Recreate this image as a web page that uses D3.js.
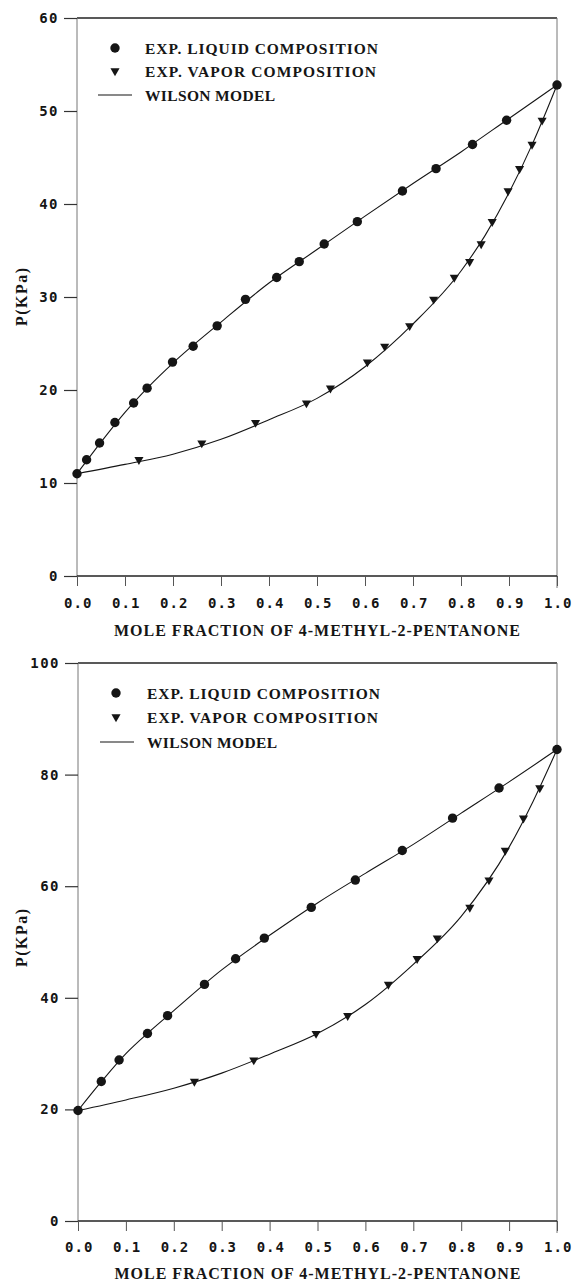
<!DOCTYPE html>
<html><head><meta charset="utf-8">
<script src="https://cdn.jsdelivr.net/npm/d3@7"></script>
<style>body{margin:0;background:#fff}svg{display:block}</style>
</head><body>
<svg id="chart" width="574" height="1284"></svg>
<script>
// ---------- DATA ----------
const xTicks = [0, 0.1, 0.2, 0.3, 0.4, 0.5, 0.6, 0.7, 0.8, 0.9, 1.0];
const topYTicks = [0, 10, 20, 30, 40, 50, 60];
const botYTicks = [0, 20, 40, 60, 80, 100];

const legendLabels = ["EXP. LIQUID COMPOSITION", "EXP. VAPOR COMPOSITION", "WILSON MODEL"];
const xTitle = "MOLE FRACTION OF 4-METHYL-2-PENTANONE";
const yTitle = "P(KPa)";

// Top panel
const topLiquidX = [0, 0.020, 0.047, 0.079, 0.118, 0.146, 0.199, 0.242, 0.292, 0.351, 0.416, 0.463, 0.515, 0.584, 0.678, 0.748, 0.824, 0.895, 1.0];
const topLiquidP = [11.0, 12.5, 14.3, 16.5, 18.6, 20.2, 23.0, 24.7, 26.9, 29.75, 32.1, 33.8, 35.7, 38.1, 41.4, 43.8, 46.4, 49.0, 52.8];
const topVaporX = [0.129, 0.260, 0.372, 0.478, 0.528, 0.605, 0.641, 0.693, 0.743, 0.786, 0.818, 0.842, 0.865, 0.898, 0.922, 0.948, 0.969];
const topVaporP = [12.5, 14.3, 16.5, 18.6, 20.2, 23.0, 24.7, 26.9, 29.75, 32.1, 33.8, 35.7, 38.1, 41.4, 43.8, 46.4, 49.0];
const topModelLiqX = [0, 0.05, 0.1, 0.15, 0.2, 0.3, 0.4, 0.5, 0.6, 0.7, 0.8, 0.9, 1.0];
const topModelLiqP = [11.0, 14.4, 17.6, 20.4, 22.9, 27.3, 31.5, 35.1, 38.7, 42.2, 45.6, 49.2, 52.8];
const topModelVapX = [0, 0.1, 0.2, 0.3, 0.4, 0.5, 0.6, 0.7, 0.8, 0.85, 0.9, 0.95, 1.0];
const topModelVapP = [11.0, 12.0, 13.1, 14.7, 16.8, 19.1, 22.5, 27.1, 32.8, 36.6, 41.2, 46.6, 52.8];

// Bottom panel
const botLiquidX = [0, 0.0486, 0.0858, 0.145, 0.187, 0.264, 0.329, 0.389, 0.487, 0.579, 0.677, 0.782, 0.879, 1.0];
const botLiquidP = [19.8, 25.0, 28.85, 33.6, 36.8, 42.4, 47.0, 50.7, 56.2, 61.1, 66.4, 72.2, 77.6, 84.5];
const botVaporX = [0.243, 0.367, 0.497, 0.563, 0.648, 0.708, 0.750, 0.818, 0.858, 0.892, 0.930, 0.964];
const botVaporP = [25.0, 28.85, 33.6, 36.8, 42.4, 47.0, 50.7, 56.2, 61.1, 66.4, 72.2, 77.6];
const botModelLiqX = [0, 0.05, 0.1, 0.15, 0.2, 0.3, 0.4, 0.5, 0.6, 0.7, 0.8, 0.9, 1.0];
const botModelLiqP = [19.8, 25.1, 30.0, 34.0, 37.7, 45.0, 51.2, 57.0, 62.3, 67.5, 73.1, 78.7, 84.5];
const botModelVapX = [0, 0.1, 0.2, 0.3, 0.4, 0.5, 0.6, 0.7, 0.8, 0.9, 0.95, 1.0];
const botModelVapP = [19.8, 21.7, 23.8, 26.5, 29.9, 33.6, 38.8, 46.0, 54.6, 67.0, 75.2, 84.5];

// ---------- DRAW ----------
const svg = d3.select("#chart");
svg.append("rect").attr("width", 574).attr("height", 1284).attr("fill", "#fff");
const INK = "#151515";

function zip(a, b) { return a.map((v, i) => [v, b[i]]); }

function panel(cfg) {
  const g = svg.append("g");
  const x = d3.scaleLinear().domain([0, 1]).range([cfg.x0, cfg.x1]);
  const y = d3.scaleLinear().domain([0, cfg.ymax]).range([cfg.yb, cfg.yt]);

  // frame
  g.append("line").attr("x1", x(0)).attr("x2", x(1)).attr("y1", y(cfg.ymax)).attr("y2", y(cfg.ymax))
    .attr("stroke", "#222").attr("stroke-width", 1.3);
  g.append("line").attr("x1", x(1)).attr("x2", x(1)).attr("y1", y(cfg.ymax)).attr("y2", y(0) + 12)
    .attr("stroke", "#777").attr("stroke-width", 1);
  g.append("line").attr("x1", x(0)).attr("x2", x(0)).attr("y1", y(cfg.ymax)).attr("y2", y(0))
    .attr("stroke", "#777").attr("stroke-width", 1);
  g.append("line").attr("x1", x(0)).attr("x2", x(1)).attr("y1", y(0)).attr("y2", y(0))
    .attr("stroke", "#222").attr("stroke-width", 1.4);

  // x axis
  const gx = g.append("g").attr("transform", `translate(0,${y(0)})`)
    .call(d3.axisBottom(x).tickValues(xTicks).tickFormat(d3.format(".1f")).tickSize(10).tickPadding(cfg.xpad));
  gx.select(".domain").remove();
  gx.selectAll(".tick line").attr("stroke", "#555").attr("stroke-width", 1);
  gx.selectAll(".tick text").attr("font-family", "DejaVu Sans Mono").attr("font-weight", "bold").attr("font-size", 14)
    .attr("letter-spacing", "1px").attr("fill", INK).attr("dx", "0.05em");

  // y axis
  const gy = g.append("g").attr("transform", `translate(${x(0)},0)`)
    .call(d3.axisLeft(y).tickValues(cfg.yTicks).tickSize(13).tickPadding(5));
  gy.select(".domain").remove();
  gy.selectAll(".tick line").attr("stroke", "#333").attr("stroke-width", 1.2);
  gy.selectAll(".tick text").attr("font-family", "DejaVu Sans Mono").attr("font-weight", "bold").attr("font-size", 14)
    .attr("letter-spacing", "1.5px").attr("fill", INK);

  // axis titles
  g.append("text").attr("x", (x(0) + x(1)) / 2).attr("y", cfg.titleY)
    .attr("text-anchor", "middle").attr("font-family", "Liberation Serif").attr("font-weight", "bold")
    .attr("font-size", 16).attr("fill", INK)
    .attr("textLength", 406).attr("lengthAdjust", "spacing").text(xTitle);
  g.append("text").attr("transform", `translate(${cfg.ylabX},${cfg.ylabY}) rotate(-90)`)
    .attr("text-anchor", "middle").attr("font-family", "Liberation Serif").attr("font-weight", "bold")
    .attr("font-size", 16).attr("fill", INK)
    .attr("textLength", 58).attr("lengthAdjust", "spacing").text(yTitle);

  // model lines
  const line = d3.line().x(d => x(d[0])).y(d => y(d[1])).curve(d3.curveMonotoneX);
  g.append("path").datum(zip(cfg.mlx, cfg.mlp)).attr("d", line)
    .attr("fill", "none").attr("stroke", INK).attr("stroke-width", 1.1);
  g.append("path").datum(zip(cfg.mvx, cfg.mvp)).attr("d", line)
    .attr("fill", "none").attr("stroke", INK).attr("stroke-width", 1.1);

  // points
  g.selectAll("circle.liq").data(zip(cfg.lx, cfg.lp)).join("circle").attr("class", "liq")
    .attr("cx", d => x(d[0])).attr("cy", d => y(d[1])).attr("r", 4.7).attr("fill", INK);
  const tri = d3.symbol().type(d3.symbolTriangle).size(36);
  g.selectAll("path.vap").data(zip(cfg.vx, cfg.vp)).join("path").attr("class", "vap")
    .attr("d", tri).attr("fill", INK)
    .attr("transform", d => `translate(${x(d[0])},${y(d[1])}) rotate(180)`);

  // legend
  const L = cfg.legend;
  g.append("circle").attr("cx", L.mx).attr("cy", L.rows[0]).attr("r", 4.7).attr("fill", INK);
  g.append("path").attr("d", tri).attr("fill", INK)
    .attr("transform", `translate(${L.mx},${L.rows[1]}) rotate(180)`);
  g.append("line").attr("x1", L.lx0).attr("x2", L.lx1).attr("y1", L.rows[2]).attr("y2", L.rows[2])
    .attr("stroke", INK).attr("stroke-width", 1.1);
  const widths = [233, 231, 130];
  legendLabels.forEach((t, i) => {
    g.append("text").attr("x", L.tx).attr("y", L.rows[i] + 5.5)
      .attr("font-family", "Liberation Serif").attr("font-weight", "bold").attr("font-size", 15.5).attr("fill", INK)
      .attr("textLength", widths[i]).attr("lengthAdjust", "spacing").text(t);
  });
}

panel({
  x0: 77, x1: 557, yb: 576, yt: 18, ymax: 60, yTicks: topYTicks, xpad: 12,
  titleY: 636, ylabX: 27, ylabY: 297,
  lx: topLiquidX, lp: topLiquidP, vx: topVaporX, vp: topVaporP,
  mlx: topModelLiqX, mlp: topModelLiqP, mvx: topModelVapX, mvp: topModelVapP,
  legend: { mx: 115, tx: 145, rows: [48, 71, 95], lx0: 98, lx1: 132 }
});

panel({
  x0: 78, x1: 557, yb: 1221, yt: 663, ymax: 100, yTicks: botYTicks, xpad: 11,
  titleY: 1279, ylabX: 27, ylabY: 938,
  lx: botLiquidX, lp: botLiquidP, vx: botVaporX, vp: botVaporP,
  mlx: botModelLiqX, mlp: botModelLiqP, mvx: botModelVapX, mvp: botModelVapP,
  legend: { mx: 116, tx: 147, rows: [693, 717, 742], lx0: 100, lx1: 134 }
});
</script>
</body></html>
